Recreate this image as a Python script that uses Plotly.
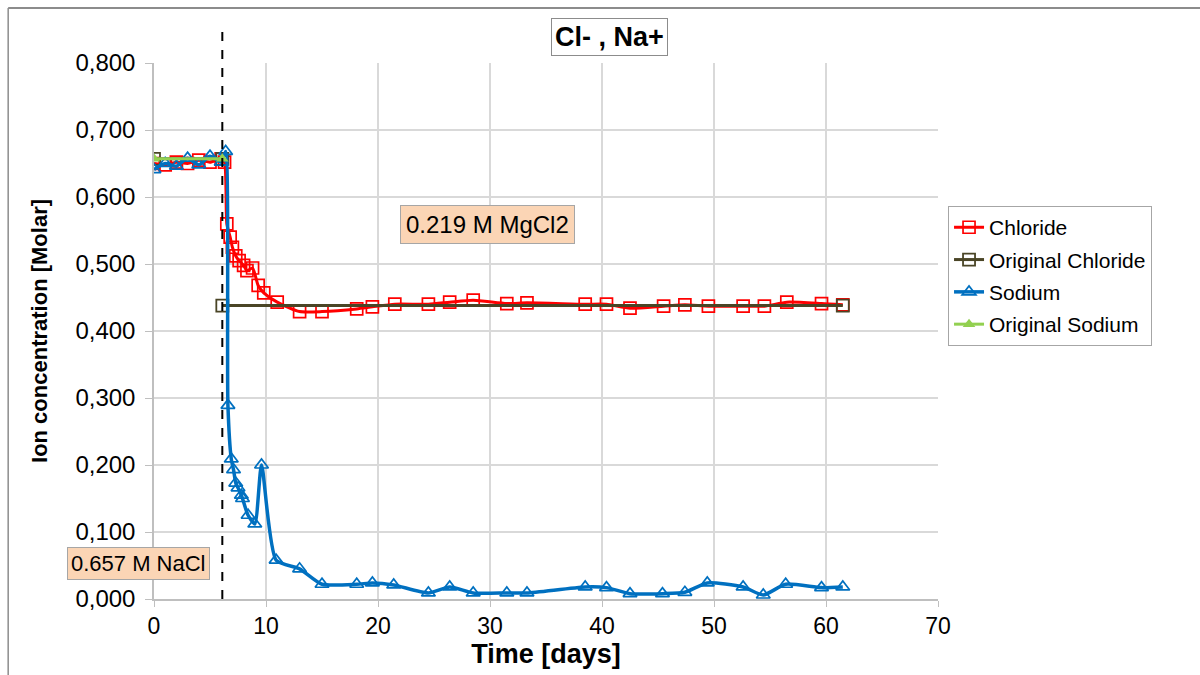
import plotly.graph_objects as go

# ---- data ----
cl_days = [0, 1, 2, 3, 4, 5, 6, 6.3, 6.5, 6.8, 7.0, 7.3, 7.6, 8.0, 8.3, 8.8, 9.3, 9.8, 11.0,
           13.0, 15.0, 18.1, 19.5, 21.5, 24.5, 26.4, 28.5, 31.5, 33.3, 38.5, 40.4, 42.5,
           45.5, 47.4, 49.5, 52.6, 54.5, 56.5, 59.6, 61.5]
cl_conc = [0.650, 0.648, 0.652, 0.650, 0.655, 0.652, 0.657, 0.652, 0.560, 0.540, 0.525, 0.512,
           0.505, 0.498, 0.490, 0.494, 0.468, 0.457, 0.443,
           0.429, 0.429, 0.433, 0.436, 0.440, 0.440, 0.443, 0.446, 0.441, 0.442, 0.440, 0.440,
           0.434, 0.437, 0.439, 0.437, 0.437, 0.437, 0.443, 0.441, 0.439]

na_days = [0, 1, 2, 3, 4, 5, 6, 6.4, 6.6, 6.9, 7.1, 7.3, 7.5, 7.8, 7.9, 8.4, 9.0, 9.6, 10.9,
           13.0, 15.0, 18.1, 19.5, 21.4, 24.5, 26.4, 28.5, 31.5, 33.3, 38.5, 40.4, 42.5,
           45.4, 47.4, 49.4, 52.6, 54.4, 56.4, 59.6, 61.5]
na_conc = [0.641, 0.650, 0.646, 0.658, 0.648, 0.661, 0.652, 0.668, 0.289, 0.209, 0.193, 0.173,
           0.166, 0.155, 0.150, 0.125, 0.112, 0.200, 0.058,
           0.045, 0.022, 0.022, 0.024, 0.021, 0.009, 0.018, 0.009, 0.009, 0.009, 0.018, 0.017,
           0.008, 0.008, 0.010, 0.024, 0.018, 0.006, 0.022, 0.017, 0.018]

orig_cl_days = [0, 6.1, None, 6.1, 61.5]
orig_cl_conc = [0.657, 0.657, None, 0.438, 0.438]

orig_na_days = [0, 6.1]
orig_na_conc = [0.657, 0.657]

switch_day = 6.1

x_ticks = [0, 10, 20, 30, 40, 50, 60, 70]
y_ticks = [0.0, 0.1, 0.2, 0.3, 0.4, 0.5, 0.6, 0.7, 0.8]

FONT = "Arial, Liberation Sans, sans-serif"

fig = go.Figure()

fig.add_trace(go.Scatter(
    x=cl_days, y=cl_conc, name="Chloride", mode="lines+markers", legendgroup="a", legendrank=1,
    line=dict(color="#FF0000", width=3, shape="spline", smoothing=0.6),
    marker=dict(symbol="square-open", size=12, color="#FF0000", line=dict(width=1.7)),
))
fig.add_trace(go.Scatter(
    x=orig_cl_days, y=orig_cl_conc, name="Original Chloride", mode="lines+markers",
    legendgroup="b", legendrank=2,
    line=dict(color="#4A4526", width=3),
    marker=dict(symbol="square-open", size=12, color="#4A4526", line=dict(width=1.8)),
    connectgaps=False,
))
fig.add_trace(go.Scatter(
    x=na_days, y=na_conc, name="Sodium", mode="lines+markers", legendgroup="c", legendrank=3,
    line=dict(color="#0070C0", width=3.5, shape="spline", smoothing=0.6),
    marker=dict(symbol="triangle-up-open", size=12, color="#0070C0", line=dict(width=1.7)),
))
fig.add_trace(go.Scatter(
    x=orig_na_days, y=orig_na_conc, name="Original Sodium", mode="lines+markers",
    legendgroup="d", legendrank=4,
    line=dict(color="#92D050", width=3),
    marker=dict(symbol="triangle-up", size=11, color="#92D050"),
))

# dashed vertical line at solution switch
fig.add_shape(type="line", xref="x", yref="paper", x0=switch_day, x1=switch_day,
              y0=0, y1=1.071, line=dict(color="#000000", width=2, dash="dash"))

# outer chart frame (top and left edges visible)
fig.add_shape(type="line", xref="paper", yref="paper", x0=-0.186, x1=1.34, y0=1.1026, y1=1.1026,
              line=dict(color="#8C8C8C", width=2))
fig.add_shape(type="line", xref="paper", yref="paper", x0=-0.186, x1=-0.186, y0=1.1026, y1=-0.15,
              line=dict(color="#8C8C8C", width=1.5))

# title box
fig.add_annotation(text="<b>Cl- , Na+</b>", xref="paper", yref="paper", x=0.581, y=1.049,
                   xanchor="center", yanchor="middle",
                   showarrow=False, font=dict(family=FONT, size=27, color="#000000"),
                   bordercolor="#8C8C8C", borderwidth=1, borderpad=3, bgcolor="#FFFFFF")

# text boxes
fig.add_annotation(text="0.219 M MgCl2", xref="paper", yref="paper", x=0.426, y=0.6978,
                   xanchor="center", yanchor="middle",
                   showarrow=False, font=dict(family=FONT, size=24, color="#000000"),
                   bgcolor="#FBD5B5", bordercolor="#A6A6A6", borderwidth=1, borderpad=5)
fig.add_annotation(text="0.657 M NaCl", xref="paper", yref="paper", x=-0.0204, y=0.0653,
                   xanchor="center", yanchor="middle",
                   showarrow=False, font=dict(family=FONT, size=22, color="#000000"),
                   bgcolor="#FBD5B5", bordercolor="#A6A6A6", borderwidth=1, borderpad=3)

fig.update_layout(
    width=1200, height=675,
    margin=dict(l=154, r=262, t=63, b=76),
    paper_bgcolor="#FFFFFF", plot_bgcolor="#FFFFFF",
    separators=",.",
    font=dict(family=FONT, size=22, color="#000000"),
    showlegend=True,
    legend=dict(x=1.0128, y=0.733, xanchor="left", yanchor="top",
                bordercolor="#A6A6A6", borderwidth=1, bgcolor="#FFFFFF",
                font=dict(family=FONT, size=21, color="#000000"),
                itemwidth=30, tracegroupgap=2,
                traceorder="grouped"),
    xaxis=dict(range=[0, 70], tickvals=x_ticks, showgrid=True, gridcolor="#D9D9D9", gridwidth=1.5,
               showline=True, linecolor="#BFBFBF", linewidth=1.5, ticks="outside", ticklen=6,
               tickcolor="#BFBFBF", zeroline=False,
               tickfont=dict(family=FONT, size=23, color="#000000"),
               title=dict(text="<b>Time [days]</b>", font=dict(family=FONT, size=27), standoff=0)),
    yaxis=dict(range=[0, 0.8], tickvals=y_ticks, tickformat=".3f", showgrid=True,
               gridcolor="#D9D9D9", gridwidth=1.5, showline=True, linecolor="#BFBFBF", linewidth=1.5,
               ticks="outside", ticklen=7, tickcolor="#BFBFBF", zeroline=False,
               ticklabelstandoff=5,
               tickfont=dict(family=FONT, size=24, color="#000000"),
               title=dict(text="<b>Ion concentration [Molar]</b>", font=dict(family=FONT, size=22),
                          standoff=22)),
)

fig.write_html("out.html")
